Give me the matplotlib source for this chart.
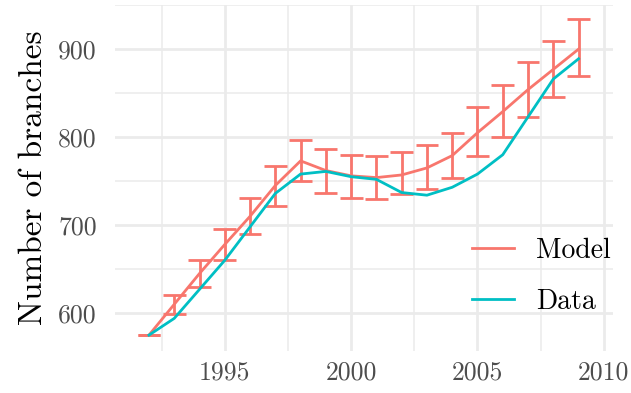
import numpy as np
import matplotlib
matplotlib.use("Agg")
import matplotlib.pyplot as plt

# === DATA ===
years = np.arange(1992, 2010)
model = [575, 610, 645, 678, 710, 745, 773, 762, 756, 754, 757, 765, 779, 805, 829, 854, 877, 900]
model_lo = [575, 599, 630, 660, 690, 722, 750, 737, 731, 730, 735, 741, 754, 778, 800, 823, 846, 870]
model_hi = [575, 621, 660, 696, 731, 767, 797, 787, 780, 779, 783, 791, 805, 834, 859, 885, 909, 934]
data = [575, 594, 627, 660, 698, 736, 758, 761, 755, 752, 737, 734, 743, 758, 780, 823, 866, 889]

# === STYLE ===
RED = "#F8766D"
TEAL = "#00BFC4"
GRID = "#EBEBEB"
plt.rcParams["font.family"] = ["cmr10", "DejaVu Serif"]
plt.rcParams["axes.unicode_minus"] = False
plt.rcParams["mathtext.fontset"] = "cm"

fig = plt.figure(figsize=(6.31, 3.93), dpi=100)
ax = fig.add_axes([0.182, 0.107, 0.789, 0.880])

# error bars: vertical segments + caps (ggplot default width 0.9)
ax.vlines(years, model_lo, model_hi, color=RED, lw=2.0, zorder=3)
ax.hlines(model_lo, years - 0.45, years + 0.45, color=RED, lw=2.0, zorder=3)
ax.hlines(model_hi, years - 0.45, years + 0.45, color=RED, lw=2.0, zorder=3)

ax.plot(years, model, color=RED, lw=2.0, label="Model", zorder=3)
ax.plot(years, data, color=TEAL, lw=2.0, label="Data", zorder=4)

ax.set_xlim(1990.65, 2010.35)
ax.set_ylim(557, 950)

ax.set_xticks([1995, 2000, 2005, 2010])
ax.set_xticks(np.arange(1992.5, 2010.5, 5), minor=True)
ax.set_yticks([600, 700, 800, 900])
ax.set_yticks([650, 750, 850, 950], minor=True)
ax.grid(which="major", color=GRID, lw=2.0)
ax.grid(which="minor", color=GRID, lw=1.1)
ax.set_axisbelow(True)
ax.tick_params(which="both", length=0, labelsize=18.5, labelcolor="#4D4D4D")
ax.tick_params(axis="x", pad=7)
ax.tick_params(axis="y", pad=13)
for s in ax.spines.values():
    s.set_visible(False)

ax.set_ylabel("Number of branches", fontsize=24, labelpad=7)

leg = ax.legend(loc="lower right", frameon=False, fontsize=20,
                handlelength=1.5, labelspacing=0.9, handletextpad=0.8,
                borderaxespad=0.0, bbox_to_anchor=(1.018, 0.072))

fig.savefig("out.png", dpi=100)
